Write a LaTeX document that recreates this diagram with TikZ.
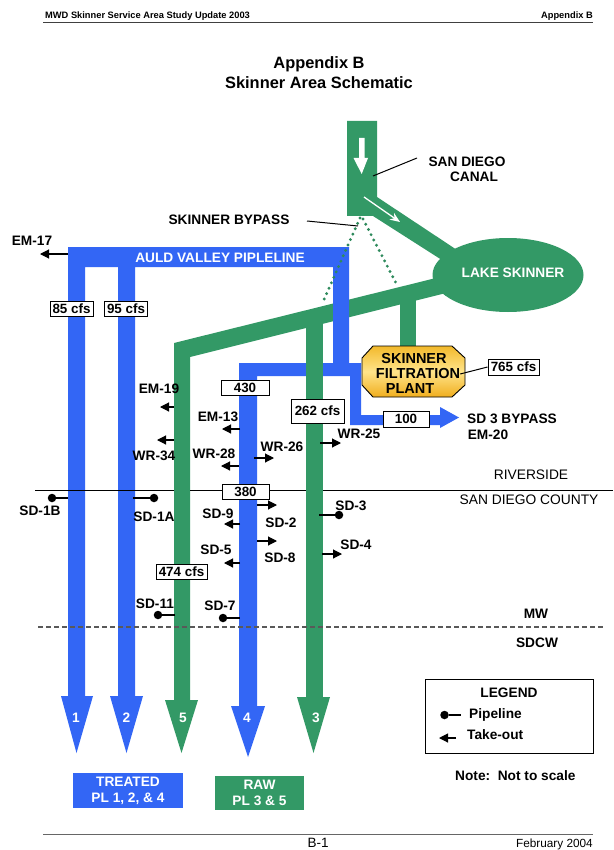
\documentclass[tikz,border=0pt]{standalone}
\usepackage{fontspec}
\setmainfont{Liberation Sans}
\definecolor{pblue}{HTML}{3366F5}
\definecolor{pgreen}{HTML}{339966}
\definecolor{goldA}{HTML}{F2B92B}
\definecolor{goldB}{HTML}{FFE48A}
\definecolor{goldC}{HTML}{F0AE1E}
\newcommand{\fs}[1]{\fontsize{#1}{#1}\selectfont}
\usetikzlibrary{arrows.meta}
\tikzset{
  x=1pt,y=-1pt,
  lab/.style={font=\fs{13.7}\bfseries,inner sep=0pt},
  wlab/.style={lab,text=white},
  plain/.style={font=\fs{13.8},inner sep=0pt},
  flow/.style={draw=black,fill=white,line width=1pt,font=\fs{13.4}\bfseries,inner sep=0pt,anchor=center},
  takeout/.style={draw=black,line width=1.1pt,-{Triangle[length=9pt,width=9pt]}},
  pipeln/.style={draw=black,line width=1.1pt},
  dotnode/.style={circle,fill=black,inner sep=0pt,minimum size=8.5pt},
  leader/.style={draw=black,line width=1pt},
}
\begin{document}
\begin{tikzpicture}
\useasboundingbox (0,0) rectangle (613,850);
\fill[white] (0,0) rectangle (613,850);
% header / footer
\draw[line width=0.8pt,black!75] (43,22) -- (593,22);
\draw[line width=1pt,black!60] (43,834) -- (593,834);
\node[font=\fs{9.3}\bfseries,anchor=west,inner sep=0pt] (hdl) at (45,16) {MWD Skinner Service Area Study Update 2003};
\node[font=\fs{9.3}\bfseries,anchor=east,inner sep=0pt] (hdr) at (593,16) {Appendix B};
\node[font=\fs{13.5},inner sep=0pt] (pg) at (318,842.5) {B-1};
\node[font=\fs{11.8},anchor=east,inner sep=0pt] (dt) at (593,844) {February 2004};
\node[font=\fs{16.4}\bfseries,inner sep=0pt] (t1) at (319,64) {Appendix B};
\node[font=\fs{16.4}\bfseries,inner sep=0pt] (t2) at (319,83) {Skinner Area Schematic};
% green main
\fill[pgreen] (400,290) rectangle (416,352);
\fill[pgreen] (347,121) -- (377,121) -- (377,197) -- (457,250) -- (445,262) -- (373,216) -- (347,216) -- cycle;
\fill[pgreen] (508,275) ellipse [x radius=75.5,y radius=37];
\fill[pgreen] (174,700) -- (174,343) -- (440,277) -- (446,293) -- (190,357) -- (190,700) -- cycle;
\fill[pgreen] (165,700) -- (198,700) -- (181.5,753) -- cycle;
% blue
\fill[pblue] (68,697) -- (68,247) -- (349,247) -- (349,363) -- (361,363) -- (361,415) -- (440,415) -- (440,407) -- (459,417.5) -- (440,428) -- (440,425) -- (350,425) -- (350,376) -- (257,376) -- (257,706) -- (239,706) -- (239,363) -- (333,363) -- (333,267) -- (135,267) -- (135,697) -- (118,697) -- (118,267) -- (85,267) -- (85,697) -- cycle;
\fill[pblue] (61,696) -- (93,696) -- (76.5,753) -- cycle;
\fill[pblue] (110,696) -- (143,696) -- (126.5,753) -- cycle;
\fill[pblue] (231,706) -- (265,706) -- (248,757) -- cycle;
% county line, then green over it
\node[inner sep=0pt,minimum size=0pt] (cl) at (35,490.5) {};
\node[inner sep=0pt,minimum size=0pt] (cr) at (613,490.5) {};
\draw[black,line width=1.3pt] (cl) -- (cr);
\fill[pgreen] (174,480) rectangle (190,500);
\fill[pgreen] (306,315) rectangle (323,697);
\fill[pgreen] (297,697) -- (330,697) -- (313.5,753) -- cycle;
% dotted bypass
\coordinate (dt0) at (360,218);
\coordinate (dt1) at (322,304);
\coordinate (dt2) at (363,219);
\coordinate (dt3) at (397,285);
\draw[pgreen!90!black,line width=3.2pt,dash pattern=on 0pt off 5.9pt,line cap=round] (dt0) -- (dt1);
\draw[pgreen!90!black,line width=3.2pt,dash pattern=on 0pt off 5.9pt,line cap=round] (dt2) -- (dt3);
% white arrows in the canal
\fill[white] (359,138) -- (364.5,138) -- (364.5,158) -- (368,158) -- (361.7,174) -- (353.5,158) -- (359,158) -- cycle;
\coordinate (wa0) at (364,197);
\coordinate (wa1) at (400,222);
\draw[white,line width=1.3pt,-{Stealth[length=10pt,width=8pt]}] (wa0) -- (wa1);
% dashed line
\coordinate (dl) at (38,627);
\coordinate (dr) at (603,627);
\draw[black!65,line width=1.1pt,dash pattern=on 5pt off 3pt] (dl) -- (dr);
% plant
\shade[top color=goldA,bottom color=goldC,middle color=goldB,draw=black,line width=0.9pt] (373,346) -- (452,346) -- (465,358) -- (465,385) -- (452,397) -- (373,397) -- (362,385) -- (362,358) -- cycle;
\node[lab,font=\fs{14.5}\bfseries] (p1) at (414,359) {SKINNER};
\node[lab,font=\fs{14.5}\bfseries] (p2) at (418,374) {FILTRATION};
\node[lab,font=\fs{14.5}\bfseries] (p3) at (410,389) {PLANT};
\node[flow,minimum width=51pt,minimum height=16pt] (f765) at (513.5,367) {765 cfs};
\draw[leader] (p2.east) -- (f765.west);
% flow boxes
\node[flow,minimum width=43pt,minimum height=15pt] (f85) at (71.5,308.5) {85 cfs};
\node[flow,minimum width=43pt,minimum height=15pt] (f95) at (126,308.5) {95 cfs};
\node[flow,minimum width=48pt,minimum height=15pt] (f430) at (245,388) {430};
\node[flow,minimum width=53pt,minimum height=24pt] (f262) at (317.5,411) {262 cfs};
\node[flow,minimum width=46pt,minimum height=16pt] (f100) at (406,419) {100};
\node[flow,minimum width=47pt,minimum height=15pt] (f380) at (245.5,491.5) {380};
\node[flow,minimum width=51pt,minimum height=15pt] (f474) at (181.5,571.5) {474 cfs};
% text labels
\node[wlab] (auld) at (220,258) {AULD VALLEY PIPLELINE};
\node[wlab] (lake) at (513,273) {LAKE SKINNER};
\node[lab] (sdc1) at (467,162) {SAN DIEGO};
\node[lab] (sdc2) at (474,177) {CANAL};
\node[lab] (byp) at (229,220) {SKINNER BYPASS};
\coordinate (sdcA) at (373,176);
\coordinate (sdcB) at (417,158);
\draw[leader] (sdcA) -- (sdcB);
\coordinate (bypA) at (358,226);
\coordinate (bypB) at (307,221);
\draw[leader] (bypB) -- (bypA);
\node[lab] (sdb) at (512,419) {SD 3 BYPASS};
\node[lab] (em20) at (488,435) {EM-20};
\node[plain] (riv) at (531,475) {RIVERSIDE};
\node[plain] (sdco) at (529,500) {SAN DIEGO COUNTY};
\node[lab] (mw) at (536,614) {MW};
\node[lab] (sdcw) at (537,643) {SDCW};
% take-outs
\newcommand{\tko}[7]{\coordinate (#1a) at (#2,#4); \coordinate (#1b) at (#3,#4);
  \draw[takeout] (#1a) -- (#1b); \node[lab] (#1) at (#5,#6) {#7};}
\newcommand{\ppl}[7]{\coordinate (#1a) at (#2,#4); \node[dotnode] (#1b) at (#3,#4) {};
  \draw[pipeln] (#1b) -- (#1a); \node[lab] (#1) at (#5,#6) {#7};}
\tko{em17}{68}{40}{254}{32}{241}{EM-17}
\tko{em19}{174}{160}{407}{159}{389}{EM-19}
\tko{em13}{240}{222}{429}{218}{417}{EM-13}
\tko{wr34}{174}{157}{440}{154}{456}{WR-34}
\tko{wr28}{239}{221}{466}{214}{454}{WR-28}
\tko{wr26}{254}{274}{458}{282}{447}{WR-26}
\tko{wr25}{320}{341}{443}{359}{434}{WR-25}
\tko{sd2}{257}{277}{505}{281}{523}{SD-2}
\tko{sd9}{240}{224}{524}{218}{514}{SD-9}
\tko{sd8}{257}{277}{541}{280}{558}{SD-8}
\tko{sd5}{240}{224}{563}{216}{550}{SD-5}
\tko{sd4}{322}{342}{554}{356}{545}{SD-4}
\ppl{sd1b}{68}{52}{498}{40}{511}{SD-1B}
\ppl{sd1a}{133}{154}{498}{154}{517}{SD-1A}
\ppl{sd3}{319}{339}{515}{351}{506}{SD-3}
\ppl{sd11}{175}{158}{615}{155}{604}{SD-11}
\ppl{sd7}{240}{223}{618}{220}{606}{SD-7}
% arrow numbers
\node[wlab] (n1) at (76,718) {1};
\node[wlab] (n2) at (126.5,718) {2};
\node[wlab] (n5) at (183,718) {5};
\node[wlab] (n4) at (247,718) {4};
\node[wlab] (n3) at (316,718) {3};
% key boxes
\node[fill=pblue,minimum width=110pt,minimum height=35pt,inner sep=0pt,text=white,font=\fs{13.7}\bfseries,align=center] (tr) at (128,790.5) {TREATED\\[2pt]PL 1, 2, \& 4};
\node[fill=pgreen,minimum width=89pt,minimum height=34pt,inner sep=0pt,text=white,font=\fs{13.7}\bfseries,align=center] (rw) at (259.5,793) {RAW\\[2pt]PL 3 \& 5};
% legend
\node[draw=black,line width=1pt,minimum width=168pt,minimum height=74pt,inner sep=0pt] (leg) at (509,716) {};
\node[lab] (legt) at (509,693) {LEGEND};
\node[lab,anchor=west] (legp) at (469,715) {Pipeline};
\node[lab,anchor=west] (legk) at (467,735) {Take-out};
\node[dotnode] (lpa) at (444.5,715) {}; \coordinate (lpb) at (461,715);
\draw[pipeln] (lpa) -- (lpb);
\coordinate (lka) at (456,738); \coordinate (lkb) at (439,738);
\draw[takeout] (lka) -- (lkb);
\node[lab,anchor=west] (note) at (455,776) {Note:\ \ Not to scale};
\end{tikzpicture}
\end{document}
